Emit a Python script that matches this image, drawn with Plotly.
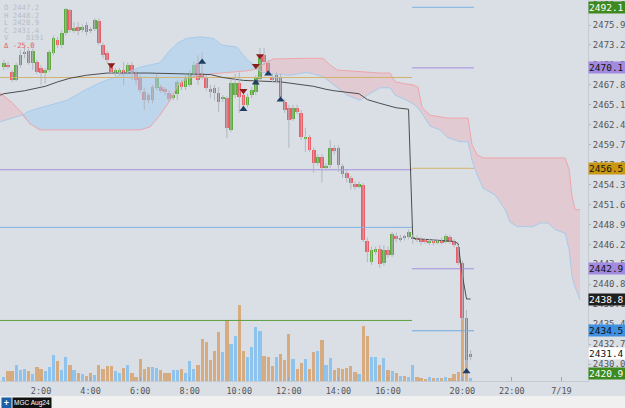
import plotly.graph_objects as go
import numpy as np

BG = "#dadfe6"
MONO = "DejaVu Sans Mono"

# ---------------- 10-minute candles ----------------
# session 1 starts 00:30, session 2 starts 18:00; x axis = hours with the 17:00-18:00 break removed
s1_start, s2_start, bar_h = 0.5, 17.0, 1 / 6
n_s1 = 99

opens = [2470.2, 2470.5, 2469.5, 2468.5, 2470.5, 2472.0, 2472.4, 2470.8, 2470.9, 2470.1,
         2469.4, 2469.8, 2472.1, 2473.9, 2473.2, 2474.8, 2477.9, 2475.1, 2475.6, 2475.2,
         2475.9, 2475.4, 2475.4, 2476.4, 2473.2, 2472.1, 2470.4, 2469.4, 2469.5, 2469.8,
         2469.4, 2470.5, 2469.5, 2468.9, 2466.8, 2466.4, 2465.7, 2467.4, 2467.5, 2467.2,
         2466.7, 2466.0, 2466.6, 2468.2, 2467.5, 2467.8, 2469.1, 2470.8, 2469.4, 2468.7,
         2467.2, 2467.4, 2466.7, 2465.9, 2466.0, 2461.7, 2466.4, 2468.1, 2466.4, 2465.1,
         2466.4, 2466.8, 2468.6, 2471.8, 2470.8, 2468.9, 2468.3, 2468.9, 2465.5, 2464.7,
         2463.2, 2464.7, 2464.0, 2460.6, 2460.7, 2459.0, 2457.2, 2458.0, 2456.5, 2456.9,
         2459.3, 2459.3, 2456.8, 2455.9, 2455.2, 2454.4, 2454.0, 2454.2, 2446.7, 2443.8,
         2445.2, 2445.6, 2443.7, 2445.4, 2444.8, 2447.3, 2446.8, 2447.2, 2447.2,
         2446.9, 2447.1, 2446.9, 2446.8, 2446.4, 2446.7, 2446.4, 2446.8, 2446.5, 2447.2,
         2446.7, 2445.9, 2443.7, 2436.2, 2430.9]
highs = [2471.2, 2470.9, 2469.8, 2470.8, 2472.5, 2472.8, 2472.7, 2472.7, 2471.2, 2470.5,
         2470.1, 2472.5, 2474.5, 2474.3, 2475.2, 2478.2, 2478.1, 2476.3, 2476.3, 2476.0,
         2476.3, 2475.6, 2476.8, 2476.8, 2473.5, 2472.4, 2470.7, 2470.1, 2470.1, 2470.9,
         2470.8, 2470.9, 2469.8, 2469.1, 2467.4, 2466.7, 2467.8, 2469.3, 2467.8, 2467.5,
         2467.1, 2466.7, 2468.5, 2468.5, 2469.1, 2469.8, 2470.9, 2471.8, 2472.2, 2469.1,
         2467.8, 2467.8, 2467.5, 2466.4, 2466.3, 2468.5, 2469.3, 2469.5, 2466.7, 2466.6,
         2467.5, 2469.1, 2472.8, 2472.8, 2471.2, 2469.3, 2469.5, 2469.3, 2465.9, 2465.1,
         2465.1, 2465.1, 2464.4, 2462.0, 2461.0, 2459.3, 2458.4, 2458.4, 2457.2, 2460.3,
         2459.6, 2459.6, 2457.1, 2456.2, 2455.5, 2454.7, 2454.7, 2454.5, 2447.1, 2445.9,
         2445.9, 2446.1, 2446.1, 2445.9, 2447.9, 2447.8, 2447.5, 2447.5, 2448.2,
         2447.5, 2447.4, 2447.2, 2447.0, 2447.0, 2446.9, 2446.8, 2447.1, 2447.6, 2447.5,
         2446.9, 2446.1, 2444.0, 2437.3, 2431.9]
lows = [2469.8, 2469.9, 2468.2, 2468.3, 2470.1, 2471.4, 2470.5, 2469.8, 2469.3, 2467.8,
        2468.0, 2469.5, 2471.8, 2472.8, 2472.8, 2474.5, 2474.9, 2474.8, 2474.5, 2474.9,
        2474.5, 2474.8, 2475.1, 2473.2, 2471.4, 2470.8, 2469.3, 2469.0, 2469.1, 2467.8,
        2469.1, 2468.5, 2467.8, 2466.8, 2464.4, 2465.3, 2465.3, 2467.1, 2466.7, 2466.4,
        2465.5, 2465.7, 2465.7, 2467.1, 2467.1, 2467.5, 2468.9, 2467.8, 2468.5, 2467.0,
        2466.0, 2465.7, 2464.1, 2465.5, 2460.6, 2461.4, 2466.0, 2464.0, 2464.4, 2464.7,
        2466.0, 2466.4, 2468.3, 2470.5, 2469.1, 2468.1, 2468.0, 2465.9, 2464.0, 2459.3,
        2462.9, 2463.8, 2460.3, 2458.7, 2458.7, 2455.9, 2456.9, 2454.6, 2456.2, 2456.5,
        2458.4, 2456.0, 2455.2, 2454.6, 2453.6, 2453.6, 2453.8, 2446.5, 2443.8, 2443.4,
        2444.8, 2443.0, 2443.3, 2444.4, 2444.5, 2446.5, 2446.5, 2446.7, 2446.9,
        2446.3, 2446.5, 2446.1, 2446.3, 2446.1, 2446.1, 2446.2, 2446.2, 2446.3, 2446.3,
        2445.8, 2443.4, 2435.9, 2429.9, 2430.5]
closes = [2470.8, 2470.2, 2468.5, 2470.5, 2471.8, 2472.2, 2470.8, 2472.4, 2469.5, 2469.4,
          2469.8, 2472.2, 2474.1, 2473.2, 2474.8, 2478.1, 2475.2, 2475.5, 2475.1, 2475.6,
          2475.0, 2475.1, 2476.6, 2473.5, 2471.8, 2471.2, 2469.5, 2469.8, 2469.8, 2469.3,
          2470.5, 2469.5, 2468.5, 2467.1, 2465.7, 2465.7, 2467.5, 2468.9, 2467.0, 2466.8,
          2465.9, 2466.4, 2468.2, 2467.5, 2468.7, 2469.4, 2470.5, 2468.5, 2468.9, 2467.4,
          2466.8, 2466.7, 2465.5, 2466.0, 2462.0, 2468.1, 2468.1, 2466.2, 2465.1, 2466.2,
          2467.1, 2468.7, 2471.4, 2470.9, 2469.5, 2468.5, 2469.1, 2466.2, 2464.4, 2463.0,
          2464.7, 2464.1, 2460.7, 2460.7, 2459.0, 2457.2, 2458.0, 2456.5, 2456.8, 2459.3,
          2458.8, 2456.9, 2455.7, 2455.2, 2454.5, 2454.0, 2454.4, 2446.8, 2445.2, 2445.4,
          2445.6, 2443.5, 2445.4, 2444.8, 2447.6, 2446.9, 2446.9, 2447.1, 2447.9,
          2447.2, 2446.9, 2446.5, 2446.5, 2446.7, 2446.4, 2446.5, 2446.4, 2447.3, 2446.5,
          2446.1, 2443.7, 2436.2, 2430.5, 2431.4]
volumes = [74, 200, 200, 314, 220, 234, 200, 134, 274, 240,
           200, 286, 520, 400, 220, 480, 320, 220, 166, 140,
           100, 166, 126, 314, 246, 300, 300, 194, 154, 260,
           314, 166, 86, 446, 234, 286, 286, 266, 220, 166,
           166, 226, 220, 240, 166, 400, 240, 326, 834, 786,
           414, 594, 980, 574, 1220, 740, 906, 1520, 606, 474,
           674, 1080, 1000, 506, 480, 300, 480, 540, 420, 934,
           446, 234, 366, 434, 234, 574, 594, 814, 314, 460,
           220, 266, 240, 254, 300, 180, 146, 1106, 894, 474,
           480, 326, 454, 226, 200, 160, 100, 100, 86,
           320, 80, 60, 40, 80, 60, 60, 60, 80, 60,
           140, 180, 1260, 420, 60]

# ---------------- ichimoku cloud (incl. forward projection) ----------------
cloud_t = [0.35, 0.83, 1.23, 1.56, 1.96, 2.56, 3.05, 3.78, 4.38, 5.19,
           6.00, 6.40, 6.80, 7.21, 7.53, 7.89, 8.42, 8.94, 9.30, 9.91,
           10.31, 10.64, 10.92, 11.36, 12.05, 12.73, 13.38, 13.66, 13.95, 14.35,
           14.87, 15.16, 15.68, 16.08, 16.29, 16.77, 17.01, 17.21, 17.38, 17.70,
           18.10, 18.39, 18.91, 19.23, 19.39, 19.60, 19.84, 20.32, 20.73, 20.93,
           21.21, 21.85, 22.14, 22.46, 22.74, 23.15, 23.31, 23.43, 23.55, 23.75]
span_a = [2462.8, 2463.3, 2463.7, 2464.3, 2464.7, 2465.2, 2465.7, 2467.1, 2468.1, 2469.1,
          2470.2, 2470.5, 2470.8, 2472.5, 2473.5, 2474.1, 2474.3, 2474.1, 2473.2, 2472.9,
          2471.2, 2470.4, 2469.5, 2469.3, 2469.1, 2469.5, 2468.9, 2468.2, 2467.4, 2466.4,
          2465.7, 2466.4, 2467.4, 2467.4, 2466.4, 2465.7, 2465.2, 2464.7, 2463.9, 2462.2,
          2461.7, 2460.7, 2460.1, 2460.1, 2457.6, 2455.6, 2453.8, 2452.9, 2450.9, 2449.2,
          2448.6, 2448.6, 2449.1, 2449.1, 2448.2, 2447.7, 2445.4, 2441.8, 2440.4, 2438.7]
span_b = [2466.7, 2465.4, 2464.0, 2462.5, 2461.7, 2461.7, 2461.7, 2461.7, 2461.7, 2461.7,
          2461.7, 2462.1, 2463.7, 2465.7, 2467.8, 2468.7, 2469.1, 2469.3, 2469.4, 2469.5,
          2469.7, 2469.9, 2470.5, 2471.3, 2471.4, 2471.4, 2471.4, 2470.5, 2469.8, 2469.7,
          2469.5, 2469.5, 2469.4, 2469.4, 2468.2, 2467.9, 2467.8, 2467.5, 2464.7, 2463.7,
          2463.5, 2463.3, 2463.3, 2463.3, 2459.7, 2458.3, 2457.9, 2457.9, 2457.9, 2457.9,
          2457.9, 2457.9, 2457.9, 2457.9, 2457.9, 2457.9, 2456.3, 2452.6, 2450.9, 2450.9]

# ---------------- session VWAP ----------------
vwap_t = [0.35, 0.5, 1.33, 2.17, 2.67, 3.17, 3.83, 4.67, 6.33, 7.67, 8.83, 9.33, 10.17,
          11.67, 12.17, 13.0, 13.5, 13.83, 14.83, 15.17, 15.67, 16.33, 16.83,
          17.0, 18.67, 18.83, 19.0, 19.17, 19.33]
vwap = [2466.4, 2466.6, 2467.0, 2467.6, 2468.2, 2468.7, 2469.1, 2469.4, 2469.4, 2469.3, 2469.2,
        2468.8, 2468.4, 2468.2, 2468.0, 2467.6, 2467.2, 2467.0, 2466.6, 2465.8, 2465.3,
        2464.7, 2464.5, 2447.0, 2446.6, 2446.3, 2442.0, 2438.8, 2438.8]

# ---------------- levels ----------------
prev_levels = [2468.8, 2456.3, 2448.5, 2435.9]
prev_colors = ["#d3b26c", "#a48fe0", "#7fb2e2", "#5c9f3c"]
cur_levels = [2478.3, 2470.1, 2456.5, 2442.9, 2434.5]
cur_colors = ["#7fb2e2", "#a48fe0", "#d3b26c", "#a48fe0", "#6fa8e2"]
session_break, levels_end = 16.97, 19.47

# ---------------- signals ----------------
sell_bar = [26, 58, 61, 62]
sell_px = [2470.5, 2467.0, 2470.4, 2471.7]
buy_bar = [48, 58, 61, 64, 67, 112]
buy_px = [2470.9, 2464.5, 2468.1, 2469.3, 2465.8, 2429.0]

# ---------------- price-scale labels ----------------
tag_values = [2470.1, 2456.5, 2442.9, 2438.8, 2434.5, 2431.4]
tag_bg = ["#a18ae0", "#c99812", "#a18ae0", "#1f1f1f", "#3f90e0", "#ffffff"]
tag_fg = ["#111111", "#111111", "#111111", "#ffffff", "#111111", "#111111"]
top_tag, bottom_tag = "2492.1", "2420.9"

legend_lines = ["O 2447.2", "H 2448.2", "L 2428.9", "C 2431.4", "V    8191", "Δ -25.0"]

xtick_vals = [2, 4, 6, 8, 10, 12, 14, 16, 19, 21, 23]
xtick_text = ["2:00", "4:00", "6:00", "8:00", "10:00", "12:00", "14:00", "16:00",
              "20:00", "22:00", "7/19"]

# ---------------- derived ----------------
n = len(opens)
t = [s1_start + k * bar_h for k in range(n_s1)] + [s2_start + j * bar_h for j in range(n - n_s1)]
o, h, l, c = map(np.array, (opens, highs, lows, closes))
up = c >= o
body_base = np.minimum(o, c)
body_h = np.maximum(np.abs(c - o), 0.14)
candle_col = np.where(up, "#5faa3e", "#ea5e67")
vol_col = np.where(up, "#8dc3ec", "#d7ab80")

fig = go.Figure()

# volume (bottom, own hidden axis)
fig.add_trace(go.Bar(x=t, y=volumes, width=0.13, marker=dict(color=vol_col, line=dict(width=0)),
                     yaxis="y", hoverinfo="skip"))

# cloud
a, b = np.array(span_a), np.array(span_b)
lower = np.minimum(a, b)
fig.add_trace(go.Scatter(x=cloud_t, y=lower, mode="lines", line=dict(width=0), yaxis="y2", hoverinfo="skip"))
fig.add_trace(go.Scatter(x=cloud_t, y=a, mode="lines", line=dict(width=0), fill="tonexty",
                         fillcolor="rgba(165,205,240,0.55)", yaxis="y2", hoverinfo="skip"))
fig.add_trace(go.Scatter(x=cloud_t, y=lower, mode="lines", line=dict(width=0), yaxis="y2", hoverinfo="skip"))
fig.add_trace(go.Scatter(x=cloud_t, y=b, mode="lines", line=dict(width=0), fill="tonexty",
                         fillcolor="rgba(240,160,168,0.33)", yaxis="y2", hoverinfo="skip"))
fig.add_trace(go.Scatter(x=cloud_t, y=a, mode="lines", line=dict(color="#a6cbea", width=1), yaxis="y2", hoverinfo="skip"))
fig.add_trace(go.Scatter(x=cloud_t, y=b, mode="lines", line=dict(color="#eea6aa", width=1), yaxis="y2", hoverinfo="skip"))

# level lines
x_left = 0.3
for lv, col in zip(prev_levels, prev_colors):
    fig.add_trace(go.Scatter(x=[x_left, session_break], y=[lv, lv], mode="lines",
                             line=dict(color=col, width=1), yaxis="y2", hoverinfo="skip"))
for lv, col in zip(cur_levels, cur_colors):
    fig.add_trace(go.Scatter(x=[session_break, levels_end], y=[lv, lv], mode="lines",
                             line=dict(color=col, width=1), yaxis="y2", hoverinfo="skip"))

# vwap
fig.add_trace(go.Scatter(x=vwap_t, y=vwap, mode="lines", line=dict(color="#4d4d4d", width=1),
                         yaxis="y2", hoverinfo="skip"))

# wicks
wx, wy = [], []
for ti, hi, lo in zip(t, highs, lows):
    wx += [ti, ti, None]
    wy += [lo, hi, None]
fig.add_trace(go.Scatter(x=wx, y=wy, mode="lines", line=dict(color="#b2b6bd", width=1),
                         yaxis="y2", hoverinfo="skip"))
# bodies
fig.add_trace(go.Bar(x=t, y=body_h, base=body_base, width=0.15,
                     marker=dict(color=candle_col, line=dict(width=0)), yaxis="y2", hoverinfo="skip"))

# signals
fig.add_trace(go.Scatter(x=[t[i] for i in sell_bar], y=sell_px, mode="markers",
                         marker=dict(symbol="triangle-down", size=7, color="#8a1d1d"),
                         yaxis="y2", hoverinfo="skip"))
fig.add_trace(go.Scatter(x=[t[i] for i in buy_bar], y=buy_px, mode="markers",
                         marker=dict(symbol="triangle-up", size=7, color="#1f3c63"),
                         yaxis="y2", hoverinfo="skip"))

W, H = 625, 408
PL, PR, PT, PB = 0, 37, 0, 27
plot_w, plot_h = W - PL - PR, H - PT - PB


def px_x(px):
    return (px - PL) / plot_w


def px_y(py):
    return (plot_h - py) / plot_h


shapes = [
    dict(type="rect", xref="paper", yref="paper", x0=px_x(-2), x1=px_x(W + 2), y0=px_y(396), y1=px_y(H + 2),
         fillcolor="#f0f0f0", line=dict(width=0), layer="below"),
]

annotations = []
for i, txt in enumerate(legend_lines):
    annotations.append(dict(xref="paper", yref="paper", x=0, y=1, xanchor="left", yanchor="middle",
                            xshift=2, yshift=-(7.5 + i * 7.5), text=txt, showarrow=False,
                            font=dict(family=MONO, size=7.3, color="#e06262" if txt.startswith("Δ") else "#b7bcc4")))
for v, bg, fg in zip(tag_values, tag_bg, tag_fg):
    annotations.append(dict(xref="paper", yref="y2", x=1, y=v, xanchor="left", yanchor="middle",
                            text=f"{v:.1f}", showarrow=False, bgcolor=bg, width=36, height=11,
                            align="left", borderpad=0, font=dict(family=MONO, size=9.5, color=fg)))
annotations.append(dict(xref="paper", yref="paper", x=1, y=1, xanchor="left", yanchor="top", yshift=-1,
                        text=top_tag, showarrow=False, bgcolor="#3e8a1f", width=36, height=11,
                        align="left", borderpad=0, font=dict(family=MONO, size=9.5, color="#ffffff")))
annotations.append(dict(xref="paper", yref="paper", x=1, y=0, xanchor="left", yanchor="bottom", yshift=1,
                        text=bottom_tag, showarrow=False, bgcolor="#3e8a1f", width=36, height=11,
                        align="left", borderpad=0, font=dict(family=MONO, size=9.5, color="#ffffff")))
# instrument button row
annotations.append(dict(xref="paper", yref="paper", x=px_x(1), y=px_y(397), xanchor="left", yanchor="top",
                        text="<b>+</b>", showarrow=False, bgcolor="#1d5ea8", width=9, height=10, borderpad=0,
                        font=dict(family="Liberation Sans", size=9, color="#ffffff")))
annotations.append(dict(xref="paper", yref="paper", x=px_x(11.5), y=px_y(397), xanchor="left", yanchor="top",
                        text="MGC Aug24", showarrow=False, bgcolor="#111111", width=38, height=10, borderpad=0,
                        font=dict(family="Liberation Sans", size=6.5, color="#ffffff")))

price_top = 2479.29
price_bot = 2427.70

fig.update_layout(
    width=W, height=H, margin=dict(l=PL, r=PR, t=PT, b=PB),
    plot_bgcolor=BG, paper_bgcolor=BG, showlegend=False, barmode="overlay", bargap=0,
    xaxis=dict(range=[0.345, 24.07], showgrid=False, zeroline=False, tickmode="array",
               tickvals=xtick_vals, ticktext=xtick_text, ticks="inside", ticklen=4,
               tickcolor="#a0a6ae", tickfont=dict(family=MONO, size=8.5, color="#555555"),
               ticklabelstandoff=2,
               showline=True, linecolor="#c6cbd2", linewidth=1, fixedrange=True),
    yaxis=dict(range=[0, 7620], visible=False, fixedrange=True),
    yaxis2=dict(overlaying="y", side="right", range=[price_bot, price_top], tick0=2430.0, dtick=2.7,
                tickformat=".1f", showgrid=False, zeroline=False, ticks="outside", ticklen=2,
                tickcolor="#b0b5bc", tickfont=dict(family=MONO, size=9, color="#555555"),
                showline=True, linecolor="#c6cbd2", linewidth=1, fixedrange=True),
    shapes=shapes, annotations=annotations,
)

fig.write_html("out.html")
